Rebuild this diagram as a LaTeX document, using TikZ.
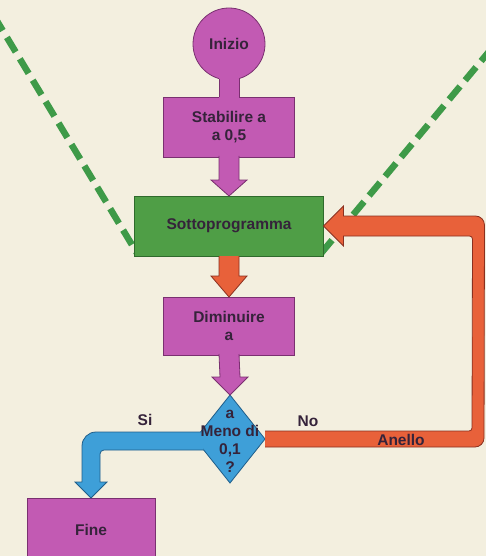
\documentclass[tikz,border=0pt]{standalone}
\usepackage{fontspec}
\setmainfont{Liberation Sans}
\usetikzlibrary{shapes.geometric,calc,backgrounds}
\definecolor{bg}{HTML}{F3EFDF}
\definecolor{purp}{HTML}{C25AB3}
\definecolor{purpd}{HTML}{7A3070}
\definecolor{grn}{HTML}{4F9E46}
\definecolor{grnd}{HTML}{2F6A2C}
\definecolor{orng}{HTML}{E8613A}
\definecolor{orngd}{HTML}{8A3020}
\definecolor{blu}{HTML}{3E9FD8}
\definecolor{blud}{HTML}{1F5E8A}
\definecolor{txt}{HTML}{35233A}
\definecolor{dashg}{HTML}{3E9A48}
\begin{document}
\begin{tikzpicture}[x=1pt,y=-1pt,
  lab/.style={font=\fontsize{15.5}{18}\selectfont\bfseries, text=txt, align=center},
  pbox/.style={draw=purpd, fill=purp, line width=0.8pt, inner sep=0pt, outer sep=0pt, lab},
  gbox/.style={draw=grnd, fill=grn, line width=0.8pt, inner sep=0pt, outer sep=0pt, lab},
  parrow/.style={draw=purpd, fill=purp, line width=0.8pt},
  oarrow/.style={draw=orngd, fill=orng, line width=0.8pt},
  barrow/.style={draw=blud, fill=blu, line width=0.8pt},
  gdash/.style={draw=dashg, line width=6.5pt, dash pattern=on 17pt off 8pt}]
\useasboundingbox (0,0) rectangle (486,556);

% nodes
\node[pbox, circle, minimum size=72] (inizio) at (229,44) {Inizio};
\node[pbox, minimum width=131, minimum height=60] (stab) at (229,127) {Stabilire a\\a 0,5};
\node[gbox, minimum width=189, minimum height=60] (sotto) at (229,226) {Sottoprogramma};
\node[pbox, minimum width=131, minimum height=58] (dimin) at (229,326) {Diminuire\\a};
\node[diamond, draw=blud, fill=blu, line width=0.8pt, minimum width=70, minimum height=88, inner sep=0pt, outer sep=0pt] (dec) at (230,439) {};
\node[pbox, minimum width=128, minimum height=64] (fine) at (91,530) {Fine};

% background and dashed guide lines
\begin{pgfonlayer}{background}
\fill[bg] (0,0) rectangle (486,556);
\coordinate (lt) at (-6,16);
\coordinate (rt) at (492,48);
\draw[gdash] (lt) -- ($(sotto.south west)+(3,-2)$);
\draw[gdash] (rt) -- ($(sotto.south east)+(-3,-2)$);
\end{pgfonlayer}

% Inizio -> Stabilire stem
\fill[purp] ($(inizio.south)+(-9.6,-6)$) rectangle ($(stab.north)+(9.6,1)$);
\draw[purpd, line width=0.8pt] ($(inizio.south)+(-10,-1.4)$) -- ($(stab.north)+(-10,0)$);
\draw[purpd, line width=0.8pt] ($(inizio.south)+(10,-1.4)$) -- ($(stab.north)+(10,0)$);

% Stabilire -> Sottoprogramma
\filldraw[parrow] ($(stab.south)+(-10,-1)$) -- ($(sotto.north)+(-10,-16)$) -- ($(sotto.north)+(-18,-16)$) -- (sotto.north) -- ($(sotto.north)+(18,-16)$) -- ($(sotto.north)+(10,-16)$) -- ($(stab.south)+(10,-1)$);

% Sottoprogramma -> Diminuire
\filldraw[oarrow] (sotto.south) ++(-10,0) -- ($(dimin.north)+(-10,-21)$) -- ($(dimin.north)+(-18,-21)$) -- (dimin.north) -- ($(dimin.north)+(18,-21)$) -- ($(dimin.north)+(10,-21)$) -- ($(sotto.south)+(10,0)$);

% Diminuire -> decision
\filldraw[parrow] ($(dimin.south)+(-10,-1)$) -- ($(dec.north)+(-10,-18)$) -- ($(dec.north)+(-18,-18)$) -- (dec.north) -- ($(dec.north)+(18,-18)$) -- ($(dec.north)+(10,-18)$) -- ($(dimin.south)+(10,-1)$);

% No loop back to Sottoprogramma
\filldraw[oarrow] ($(dec.east)+(0,8)$) [rounded corners=9pt] -- ($(dec.east)+(219,8)$) -- ($(sotto.east)+(161,-10)$) [sharp corners] -- ($(sotto.east)+(20,-10)$) -- ($(sotto.east)+(20,-20)$) -- (sotto.east) -- ($(sotto.east)+(20,20)$) -- ($(sotto.east)+(20,10)$) [rounded corners=3pt] -- ($(sotto.east)+(149,10)$) -- ($(dec.east)+(207,-8)$) [sharp corners] -- ($(dec.east)+(0,-8)$);

% Si branch to Fine
\filldraw[barrow] ($(dec.west)+(5.6,-7)$) [rounded corners=14pt] -- ($(fine.north)+(-9,-66)$) [sharp corners] -- ($(fine.north)+(-9,-16)$) -- ($(fine.north)+(-16,-16)$) -- (fine.north) -- ($(fine.north)+(16,-16)$) -- ($(fine.north)+(9,-16)$) [rounded corners=4pt] -- ($(fine.north)+(9,-48)$) [sharp corners] -- ($(dec.west)+(8.75,11)$);

% texts
\node[lab] (dectext) at ($(dec)+(0,2)$) {\fontsize{15.5}{17}\selectfont a\\Meno di\\0,1\\?};
\node[lab] (si) at (145,420) {Si};
\node[lab] (no) at (308,421) {No};
\node[lab] (anello) at (401,440) {Anello};
\end{tikzpicture}
\end{document}
